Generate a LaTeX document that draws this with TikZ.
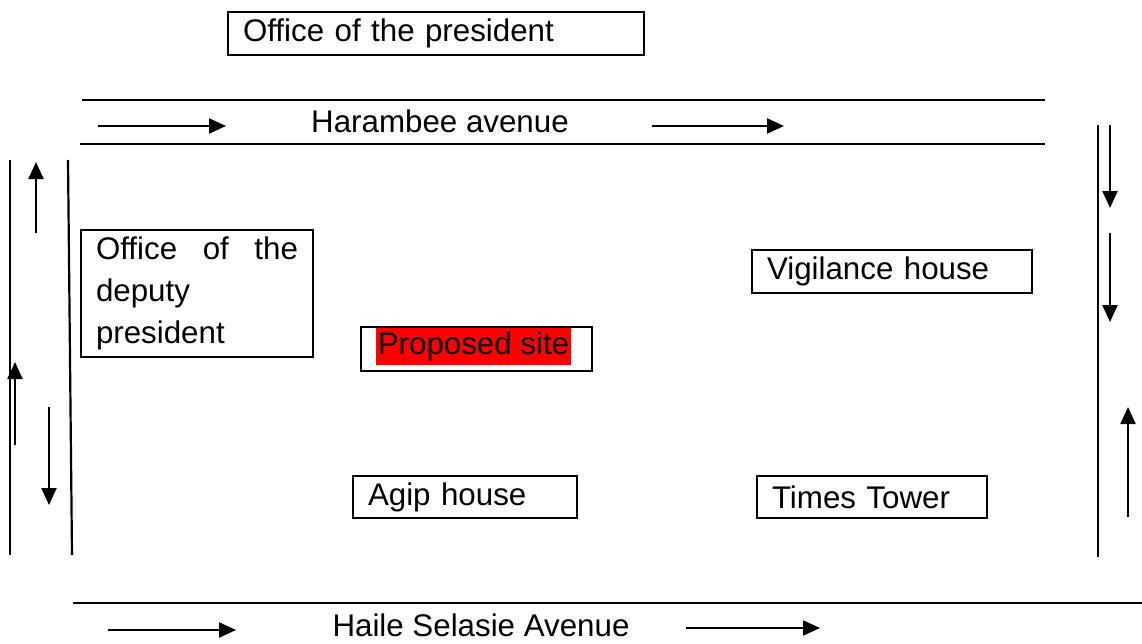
\documentclass[tikz,border=0pt]{standalone}
\usepackage{fontspec}
\setmainfont{Liberation Sans}
\usetikzlibrary{arrows.meta}
\begin{document}
\begin{tikzpicture}[x=1pt,y=-1pt,
  box/.style={draw, line width=2pt, inner xsep=15pt, inner ysep=0pt, align=left, font=\fontsize{31.3}{42}\selectfont},
  road/.style={line width=2.2pt},
  arr/.style={line width=2.2pt, -{Triangle[length=17pt,width=15pt]}},
  lbl/.style={font=\fontsize{31.3}{38}\selectfont, inner sep=0pt}]
\useasboundingbox (0,0) rectangle (1142,643);
% buildings
\node[box, text width=386pt, minimum height=43pt] (pres) at (436,33.5) {Office of the president};
\node[box, text width=202pt, minimum height=127pt] (dep) at (197,293.5) {Office\hfill of\hfill the\\deputy\\president};
\node[box, text width=250pt, minimum height=43pt] (vig) at (892,271.5) {Vigilance house};
\node[box, minimum width=231pt, minimum height=44pt] (prop) at (476.5,349) {};
\node[lbl, fill=red, minimum width=195pt, minimum height=37pt] (propt) at (473.5,346.5) {Proposed site};
\node[box, text width=194pt, minimum height=42pt] (agip) at (465,497) {Agip house};
\node[box, text width=200pt, minimum height=42pt] (times) at (872,497) {Times Tower};
% roads
\draw[road] (82,100) -- (1045,100);
\draw[road] (80,144) -- (1045,144);
\draw[road] (10,160) -- (10,555);
\draw[road] (68,160) -- (72,555);
\draw[road] (1098,125) -- (1098,557);
\draw[road] (73,603) -- (1142,603);
% road labels
\node[lbl] (har) at (440,121) {Harambee avenue};
\node[lbl] (hai) at (481,625) {Haile Selasie Avenue};
% arrow end points
\coordinate (h1a) at (98,126);  \coordinate (h1b) at (226,126);
\coordinate (h2a) at (652,126); \coordinate (h2b) at (784,126);
\coordinate (l1a) at (36,233);  \coordinate (l1b) at (36,162);
\coordinate (l2a) at (15,445);  \coordinate (l2b) at (15,362);
\coordinate (l3a) at (49,407);  \coordinate (l3b) at (49,505);
\coordinate (r1a) at (1110,125); \coordinate (r1b) at (1110,208);
\coordinate (r2a) at (1110,233); \coordinate (r2b) at (1110,322);
\coordinate (r3a) at (1128,517); \coordinate (r3b) at (1128,407);
\coordinate (b1a) at (108,630); \coordinate (b1b) at (236,630);
\coordinate (b2a) at (686,628); \coordinate (b2b) at (820,628);
% arrows
\foreach \p in {h1,h2,l1,l2,l3,r1,r2,r3,b1,b2}
  \draw[arr] (\p a) -- (\p b);
\end{tikzpicture}
\end{document}
